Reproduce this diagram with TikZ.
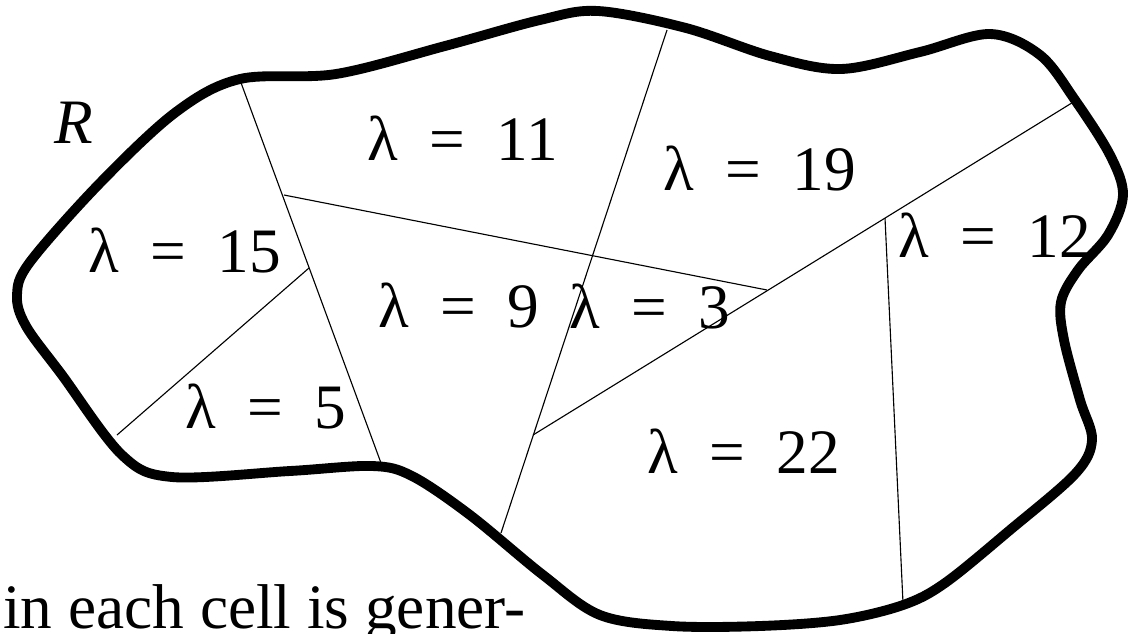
\documentclass[tikz,border=0pt]{standalone}
\usepackage{fontspec}
\setmainfont{Liberation Serif}
\usepackage{tikz}
\newcommand{\rate}[1]{λ\enskip=\enskip#1}

\begin{document}
\begin{tikzpicture}[
  x=0.025cm, y=-0.025cm,
  region/.style={line width=7pt, line join=round},
  wall/.style={line width=0.8pt},
  cell/.style={anchor=base west, inner sep=0pt, font=\fontsize{45}{52}\selectfont}
]
\useasboundingbox (0,0) rectangle (1128,633);

% Outline of R
\draw[region] plot[smooth cycle, tension=0.55] coordinates {
  (240,79) (336,74) (445,46) (540,20) (598,11) (686,28) (770,56) (841,69)
  (920,52) (990,34) (1040,55) (1075,100) (1110,155) (1123,195) (1108,235)
  (1078,270) (1061,302) (1064,340) (1080,400) (1092,440) (1075,474)
  (1010,530) (945,583) (903,605) (840,620) (760,626) (672,626) (600,615)
  (543,575) (470,515) (412,476) (372,466) (290,471) (172,477)
  (122,455) (62,375) (26,326) (17,295) (30,262) (100,183) (176,112)};

% Cell walls
\coordinate (w1a) at (240,80);
\coordinate (w1b) at (381,463);
\coordinate (j1) at (284,195);
\coordinate (j2) at (309,268);
\coordinate (w3b) at (117,435);
\coordinate (w4a) at (667,30);
\coordinate (w4b) at (501,533);
\coordinate (j3) at (533,435);
\coordinate (j4) at (767,290);
\coordinate (j5) at (885,218);
\coordinate (w5b) at (1075,101);
\coordinate (w6b) at (903,603);

\draw[wall] (w1a) -- (w1b);
\draw[wall] (j1) -- (j4);
\draw[wall] (j2) -- (w3b);
\draw[wall] (w4a) -- (w4b);
\draw[wall] (j3) -- (w5b);
\draw[wall] (j5) -- (w6b);

% Rates
\node[cell] (r11) at (367,160) {\rate{11}};
\node[cell] (r15) at (88,272) {\rate{15}};
\node[cell] (r19) at (663,190) {\rate{19}};
\node[cell] (r12) at (898,257) {\rate{12}};
\node[cell] (r9) at (378,327) {\rate{9}};
\node[cell] (r3) at (569,328) {\rate{3}};
\node[cell] (r5) at (185,428) {\rate{5}};
\node[cell] (r22) at (647,473) {\rate{22}};

% Labels
\node[cell, font=\fontsize{45}{52}\selectfont\itshape] (rname) at (54,143) {R};
\node[cell] (txt) at (3,628) {in each cell is gener-};
\end{tikzpicture}
\end{document}
